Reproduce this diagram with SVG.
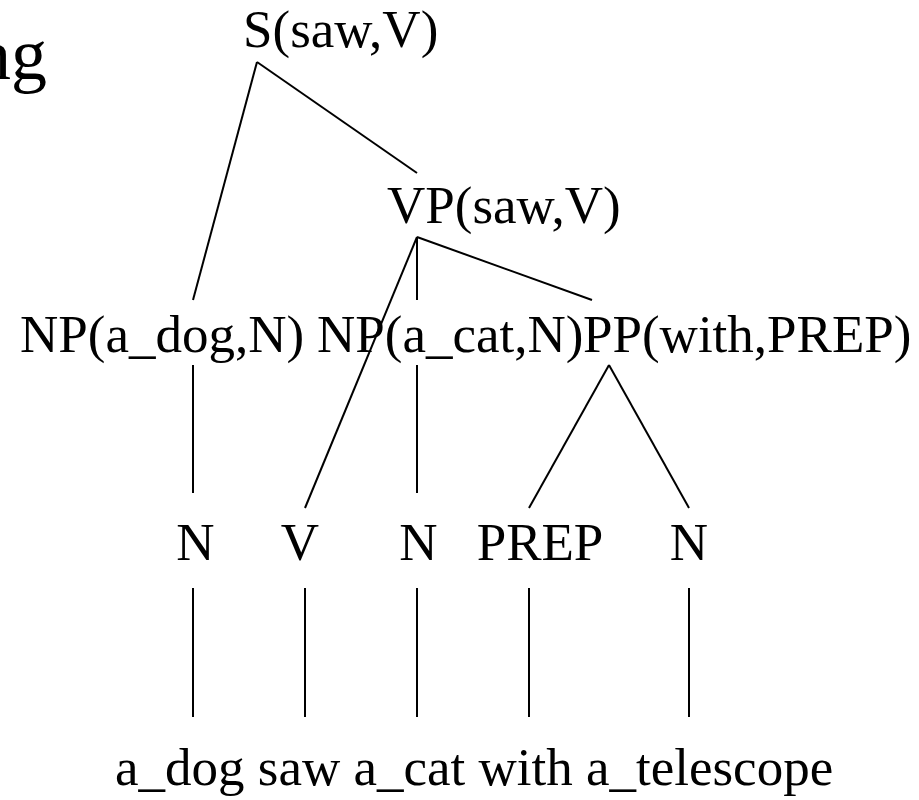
<svg xmlns="http://www.w3.org/2000/svg" width="919" height="800" viewBox="0 0 919 800">
<style>
text { font-family: "Liberation Serif", "Times New Roman", serif; font-size: 53px; fill: #000; }
.c line { stroke: #000; stroke-width: 2; }
</style>
<rect width="919" height="800" fill="#fff"/>
<text x="47" y="79" text-anchor="end" style="font-size:72px">ng</text>
<g id="S"><text x="243" y="47">S(saw,V)</text></g>
<g id="VP"><text x="387" y="223">VP(saw,V)</text></g>
<g id="NP_dog"><text x="20" y="352">NP(a_dog,N)</text></g>
<g id="NP_cat"><text x="317" y="352">NP(a_cat,N)</text></g>
<g id="PP"><text x="583" y="352">PP(with,PREP)</text></g>
<g id="N1"><text x="195.5" y="560" text-anchor="middle">N</text></g>
<g id="V"><text x="300" y="560" text-anchor="middle">V</text></g>
<g id="N2"><text x="418.5" y="560" text-anchor="middle">N</text></g>
<g id="PREP"><text x="540" y="560" text-anchor="middle">PREP</text></g>
<g id="N3"><text x="689" y="560" text-anchor="middle">N</text></g>
<g id="words"><text x="115" y="785">a_dog saw a_cat with a_telescope</text></g>
<g class="c" id="connectors">
<line x1="257" y1="62" x2="193" y2="300"/>
<line x1="257" y1="62" x2="417" y2="173"/>
<line x1="417" y1="237" x2="305" y2="508"/>
<line x1="417" y1="237" x2="417" y2="300"/>
<line x1="417" y1="237" x2="592" y2="300"/>
<line x1="193" y1="365" x2="193" y2="493"/>
<line x1="417" y1="365" x2="417" y2="493"/>
<line x1="609" y1="365" x2="529" y2="508"/>
<line x1="609" y1="365" x2="689" y2="508"/>
<line x1="193" y1="588" x2="193" y2="717"/>
<line x1="305" y1="588" x2="305" y2="717"/>
<line x1="417" y1="588" x2="417" y2="717"/>
<line x1="529" y1="588" x2="529" y2="717"/>
<line x1="689" y1="588" x2="689" y2="717"/>
</g>
</svg>
